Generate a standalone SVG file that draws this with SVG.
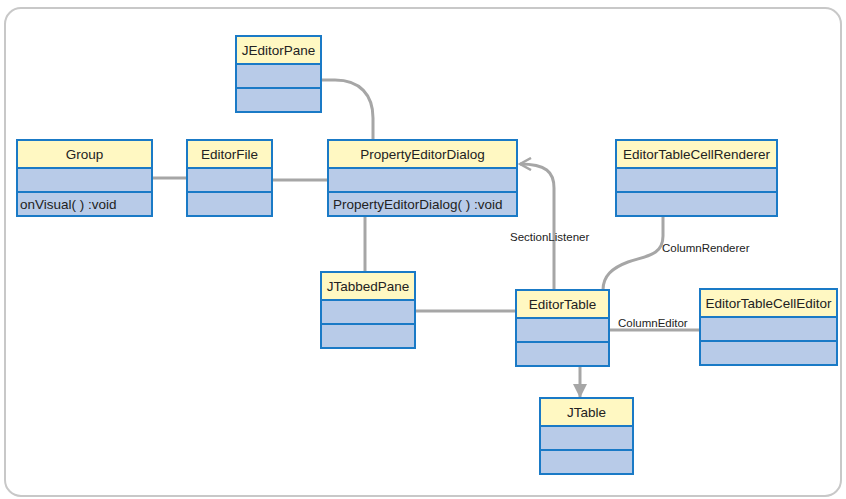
<svg xmlns="http://www.w3.org/2000/svg" width="846" height="499" viewBox="0 0 846 499">
<defs>
<style>
.hd{fill:#fff8c2;stroke:#1a7ac6;stroke-width:2}
.rw{fill:#b8cbe8;stroke:#1a7ac6;stroke-width:2}
.t{font-family:"Liberation Sans",Arial,sans-serif;font-size:13.5px;fill:#222;text-anchor:middle}
.m{font-family:"Liberation Sans",Arial,sans-serif;font-size:13.5px;fill:#222}
.lb{font-family:"Liberation Sans",Arial,sans-serif;font-size:11.5px;fill:#222}
.c{fill:none;stroke:#a6a6a6;stroke-width:3}
</style>
<marker id="open" viewBox="0 0 14 14" refX="12" refY="7" markerWidth="14" markerHeight="14" markerUnits="userSpaceOnUse" orient="auto">
<path d="M1,1 L12,7 L1,13" fill="none" stroke="#a6a6a6" stroke-width="2.5"/>
</marker>
<marker id="tri" viewBox="0 0 14 14" refX="13" refY="7" markerWidth="14" markerHeight="14" markerUnits="userSpaceOnUse" orient="auto">
<path d="M0,0 L14,7 L0,14 Z" fill="#a6a6a6"/>
</marker>
</defs>
<rect x="5" y="8" width="836" height="488" rx="16" fill="#fff" stroke="#c8c8c8" stroke-width="2"/>
<g id="connectors">
<path class="c" d="M152,178 H187"/>
<path class="c" d="M272,180 H328"/>
<path class="c" d="M321,80 H335 C360,80 373,95 373,118 V140"/>
<path class="c" d="M365,216 V272"/>
<path class="c" d="M415,311 H516"/>
<path class="c" d="M554,290 V188 C554,172 546,164 520,164" marker-end="url(#open)"/>
<path class="c" d="M663,216 V236 C663,256 645,256 628,262 C612,268 603,276 603,290"/>
<path class="c" d="M609,330 H700"/>
<path class="c" d="M580,366 V397" marker-end="url(#tri)"/>
<text class="lb" x="510" y="241">SectionListener</text>
<text class="lb" x="662" y="252">ColumnRenderer</text>
<text class="lb" x="618" y="327">ColumnEditor</text>
</g>
<g id="JEditorPane">
<rect class="rw" x="236" y="64" width="85" height="24"/><rect class="rw" x="236" y="88" width="85" height="24"/>
<rect class="hd" x="236" y="36" width="85" height="28"/>
<text class="t" x="278.5" y="55">JEditorPane</text>
</g>
<g id="Group">
<rect class="rw" x="17" y="168" width="135" height="24"/><rect class="rw" x="17" y="192" width="135" height="24"/>
<rect class="hd" x="17" y="140" width="135" height="28"/>
<text class="t" x="84.5" y="159">Group</text>
<text class="m" x="20" y="209">onVisual( ) :void</text>
</g>
<g id="EditorFile">
<rect class="rw" x="187" y="168" width="85" height="24"/><rect class="rw" x="187" y="192" width="85" height="24"/>
<rect class="hd" x="187" y="140" width="85" height="28"/>
<text class="t" x="229.5" y="159">EditorFile</text>
</g>
<g id="PropertyEditorDialog">
<rect class="rw" x="328" y="168" width="189" height="24"/><rect class="rw" x="328" y="192" width="189" height="24"/>
<rect class="hd" x="328" y="140" width="189" height="28"/>
<text class="t" x="422.5" y="159">PropertyEditorDialog</text>
<text class="m" x="333" y="209">PropertyEditorDialog( ) :void</text>
</g>
<g id="EditorTableCellRenderer">
<rect class="rw" x="616" y="168" width="161" height="24"/><rect class="rw" x="616" y="192" width="161" height="24"/>
<rect class="hd" x="616" y="140" width="161" height="28"/>
<text class="t" x="696.5" y="159">EditorTableCellRenderer</text>
</g>
<g id="JTabbedPane">
<rect class="rw" x="321" y="300" width="94" height="24"/><rect class="rw" x="321" y="324" width="94" height="24"/>
<rect class="hd" x="321" y="272" width="94" height="28"/>
<text class="t" x="368" y="291">JTabbedPane</text>
</g>
<g id="EditorTable">
<rect class="rw" x="516" y="318" width="93" height="24"/><rect class="rw" x="516" y="342" width="93" height="24"/>
<rect class="hd" x="516" y="290" width="93" height="28"/>
<text class="t" x="562.5" y="309">EditorTable</text>
</g>
<g id="EditorTableCellEditor">
<rect class="rw" x="700" y="317" width="137" height="24"/><rect class="rw" x="700" y="341" width="137" height="24"/>
<rect class="hd" x="700" y="289" width="137" height="28"/>
<text class="t" x="768.5" y="308">EditorTableCellEditor</text>
</g>
<g id="JTable">
<rect class="rw" x="540" y="426" width="93" height="24"/><rect class="rw" x="540" y="450" width="93" height="24"/>
<rect class="hd" x="540" y="398" width="93" height="28"/>
<text class="t" x="586.5" y="417">JTable</text>
</g>
</svg>
